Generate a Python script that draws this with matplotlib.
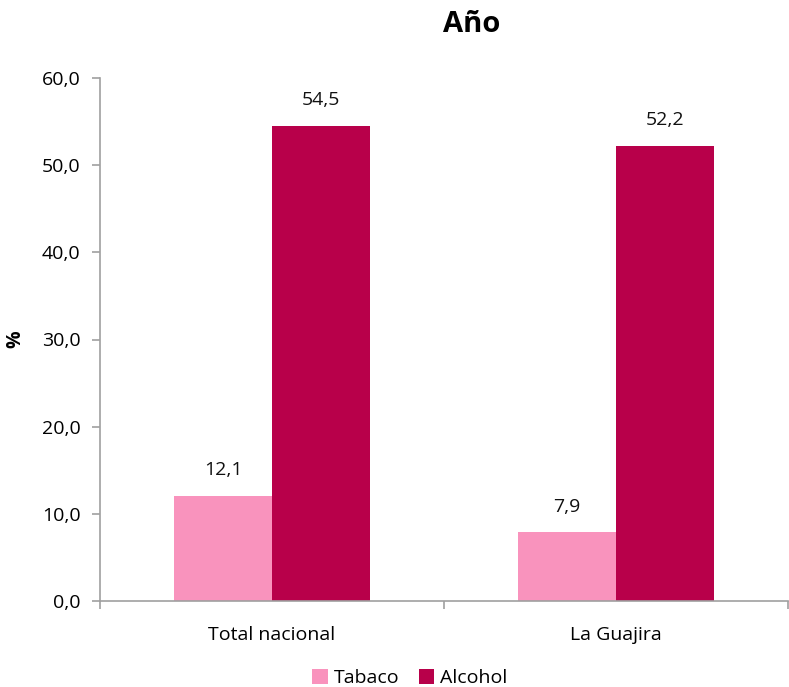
import matplotlib.pyplot as plt
import numpy as np

categories = ["Total nacional", "La Guajira"]
tabaco = [12.1, 7.9]
alcohol = [54.5, 52.2]
series_names = ["Tabaco", "Alcohol"]
colors = ["#F993BD", "#B8004A"]

plt.rcParams['font.family'] = ['Open Sans', 'DejaVu Sans']

fig = plt.figure(figsize=(7.89, 6.87), dpi=100)
ax = fig.add_axes([100/789, 1-601/687, 688/789, 523/687])

x = np.arange(len(categories))
w = 0.285
b1 = ax.bar(x - w/2, tabaco, w, color=colors[0], label=series_names[0])
b2 = ax.bar(x + w/2, alcohol, w, color=colors[1], label=series_names[1])

def fmt(v):
    return f"{v:.1f}".replace(".", ",")

for bars, vals in ((b1, tabaco), (b2, alcohol)):
    for r, v in zip(bars, vals):
        ax.text(r.get_x() + r.get_width()/2, v + 1.9, fmt(v), ha='center', va='bottom',
                fontsize=14, color='#111111')

ax.set_xlim(-0.5, len(categories) - 0.5)
ax.set_ylim(0, 60)
yt = np.arange(0, 61, 10)
ax.set_yticks(yt)
ax.set_yticklabels([fmt(v) for v in yt], fontsize=14)
ax.set_xticks(x)
ax.set_xticklabels(categories, fontsize=14)
ax.tick_params(axis='x', length=0, pad=18)
ax.set_xticks(np.arange(-0.5, len(categories)), minor=True)
ax.tick_params(axis='x', which='minor', length=6, color='#A0A0A0', width=1.2)
ax.tick_params(axis='y', length=6, color='#A0A0A0', width=1.2, pad=8)

for s in ['top', 'right']:
    ax.spines[s].set_visible(False)
for s in ['left', 'bottom']:
    ax.spines[s].set_color('#A0A0A0')
    ax.spines[s].set_linewidth(1.2)

ax.set_ylabel('%', fontsize=14, fontweight='bold', labelpad=12)
fig.text(472/789, 1-25/687, 'Año', ha='center', va='center', fontsize=21, fontweight='bold')

fig.legend(handles=[b1, b2], labels=series_names, loc='center', bbox_to_anchor=(410/789, 1-678/687),
           ncol=2, frameon=False, fontsize=14, handlelength=0.8, handleheight=0.8,
           handletextpad=0.3, columnspacing=1.0)

fig.savefig('out.png', dpi=100)
